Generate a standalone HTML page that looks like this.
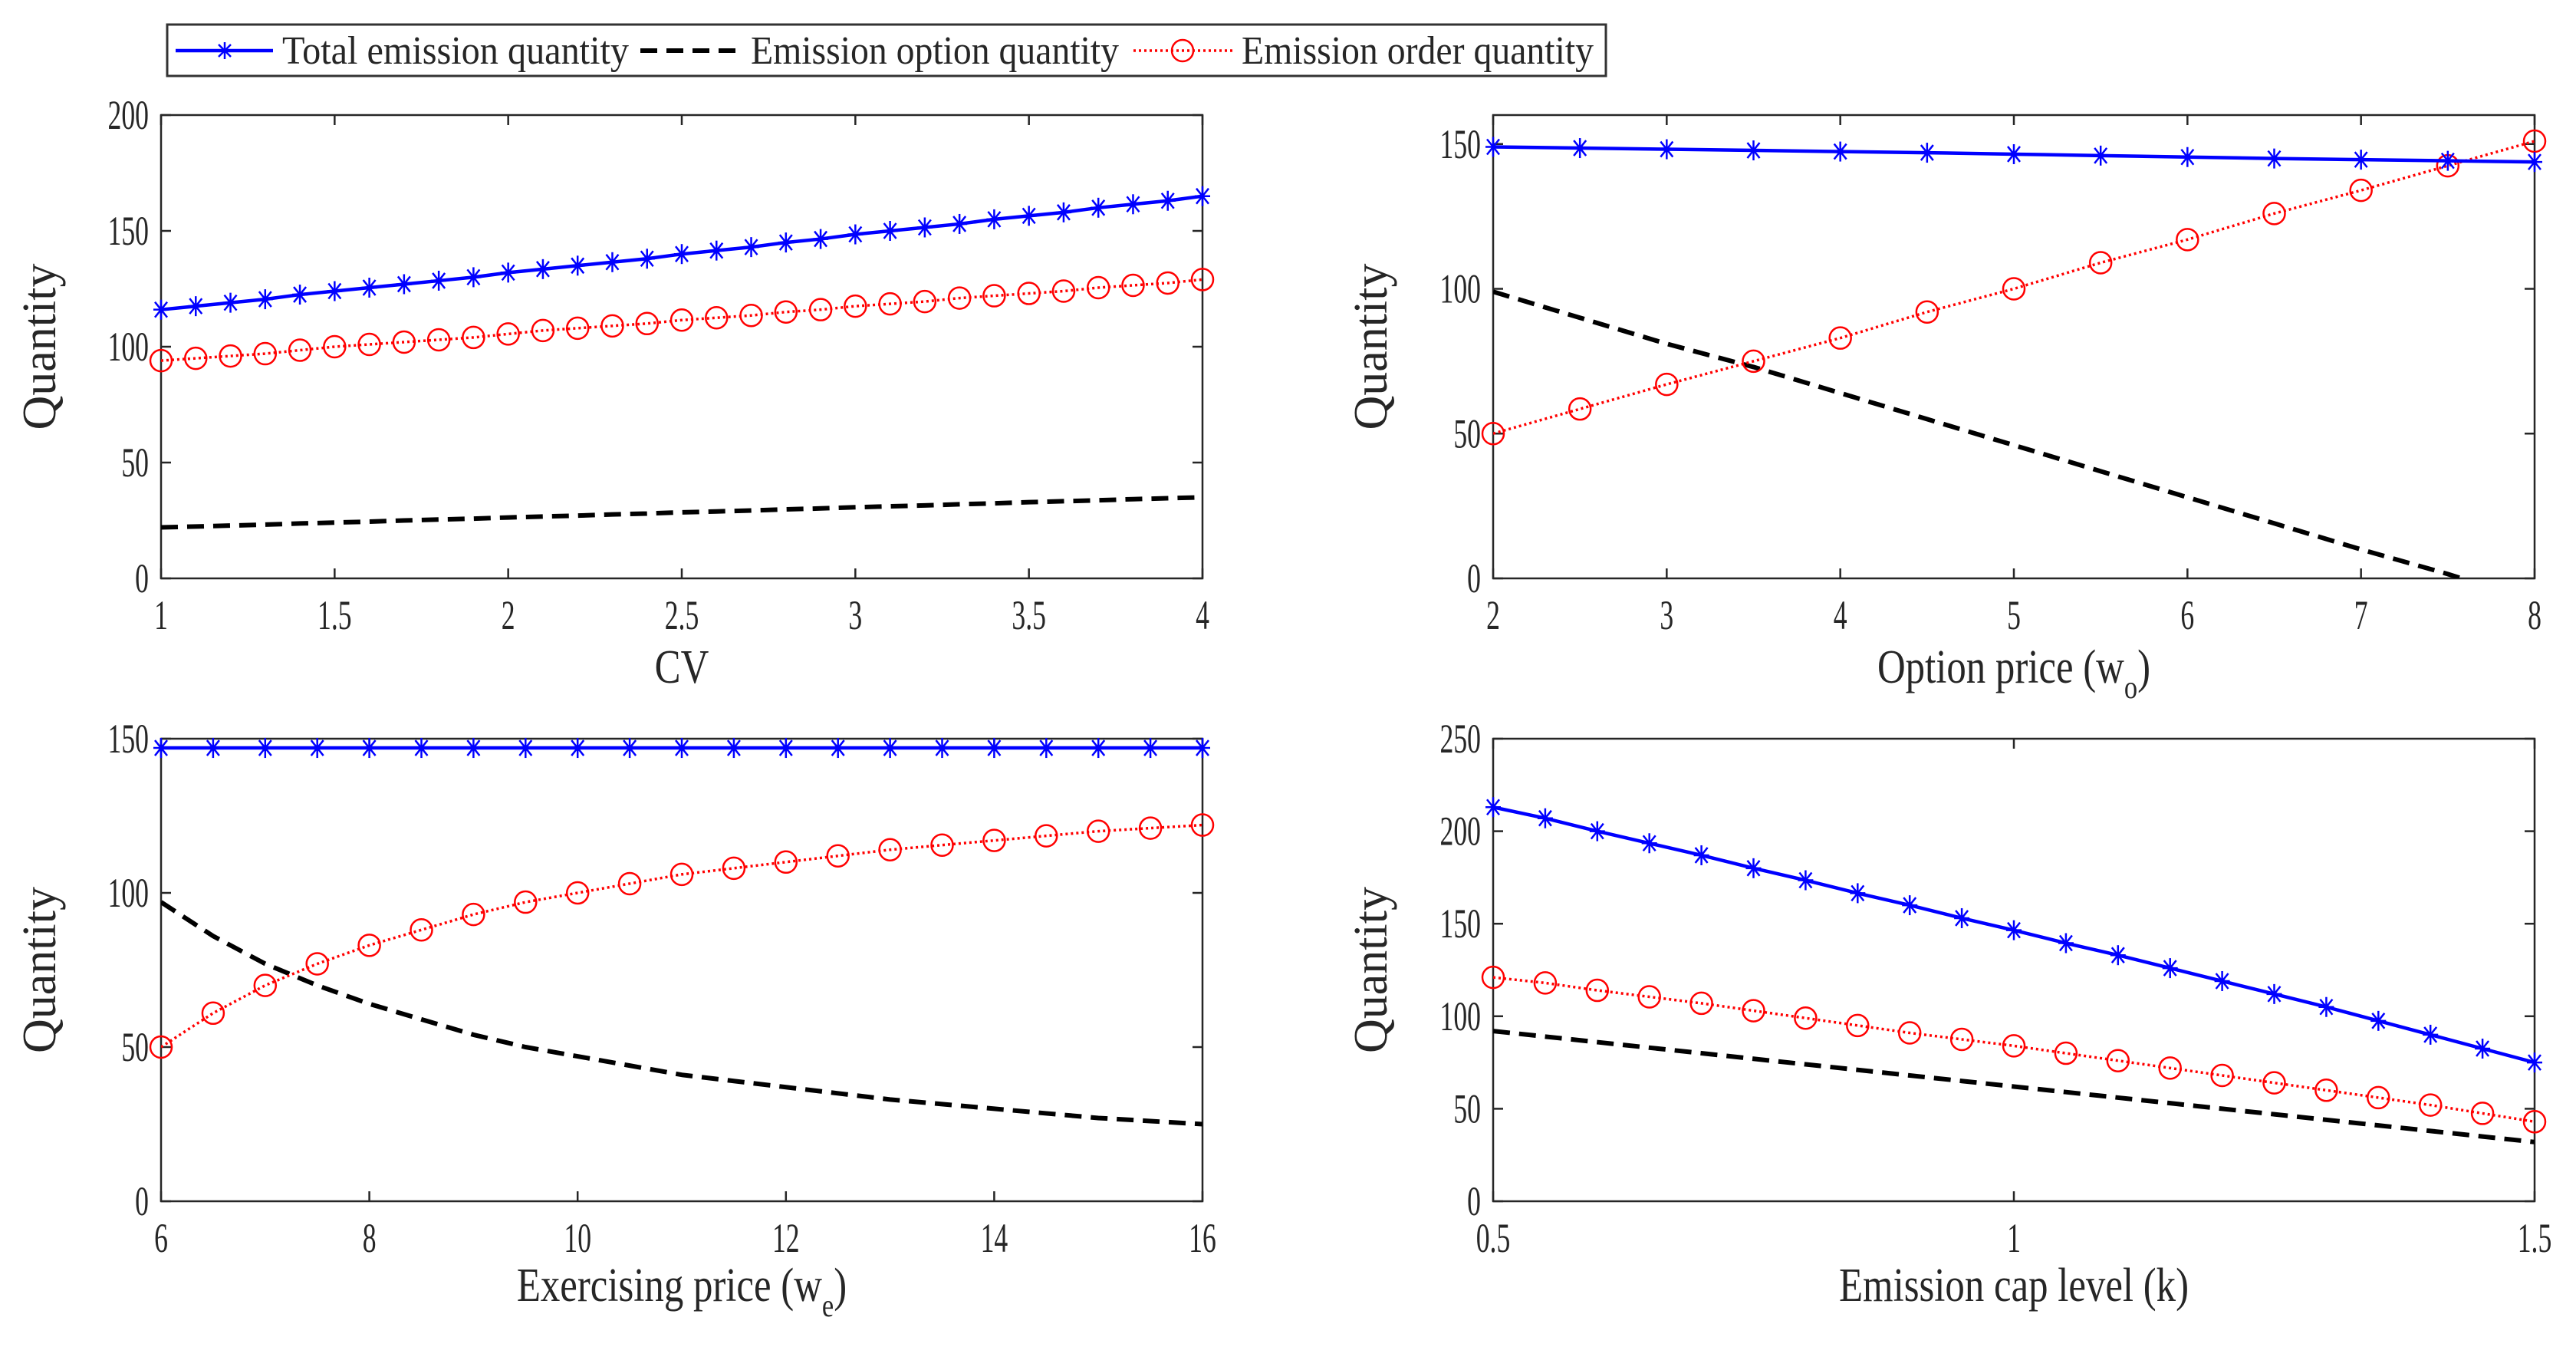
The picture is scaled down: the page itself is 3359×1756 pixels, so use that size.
<!DOCTYPE html>
<html><head><meta charset="utf-8">
<style>
html,body{margin:0;padding:0;background:#fff;}
svg{display:block;}
text{font-family:"Liberation Serif",serif;fill:#262626;}
</style></head>
<body>
<svg id="fig" width="3359" height="1756" viewBox="0 0 3359 1756" xmlns="http://www.w3.org/2000/svg">
<defs>
<clipPath id="c0"><rect x="210" y="150" width="1358" height="604"/></clipPath>
<clipPath id="c1"><rect x="1947" y="150" width="1358" height="604"/></clipPath>
<clipPath id="c2"><rect x="210" y="963" width="1358" height="603"/></clipPath>
<clipPath id="c3"><rect x="1947" y="963" width="1358" height="603"/></clipPath>
</defs>
<g id="legend">
<rect x="218" y="32" width="1876" height="67" fill="#fff" stroke="#333" stroke-width="3"/>
<g>
<line x1="229" y1="66" x2="356" y2="66" stroke="#0000ff" stroke-width="4.5"/>
<g transform="translate(293,66)" stroke="#0000ff" stroke-width="2.5"><line x1="-10" y1="0" x2="10" y2="0"/><line x1="0" y1="-11" x2="0" y2="11"/><line x1="-8" y1="-8" x2="8" y2="8"/><line x1="-8" y1="8" x2="8" y2="-8"/></g>
<text class="cond" x="368" y="83" font-size="52" data-tl="452">Total emission quantity</text>
</g>
<g>
<line x1="835" y1="66" x2="968" y2="66" stroke="#000" stroke-width="6" stroke-dasharray="22,12"/>
<text class="cond" x="979" y="83" font-size="52" data-tl="480">Emission option quantity</text>
</g>
<g>
<line x1="1478" y1="66" x2="1607" y2="66" stroke="#ff0000" stroke-width="3.5" stroke-dasharray="3,4"/>
<circle cx="1542" cy="66" r="14" fill="none" stroke="#ff0000" stroke-width="2.5"/>
<text class="cond" x="1619" y="83" font-size="52" data-tl="459">Emission order quantity</text>
</g>
</g>
<g id="panels"></g>
</svg>
<script>
// Panel 1: CV
const cvX = [1,1.1,1.2,1.3,1.4,1.5,1.6,1.7,1.8,1.9,2,2.1,2.2,2.3,2.4,2.5,2.6,2.7,2.8,2.9,3,3.1,3.2,3.3,3.4,3.5,3.6,3.7,3.8,3.9,4];
const cvTotal = [116,117.5,119,120.5,122.5,124,125.5,127,128.5,130,132,133.5,135,136.5,138,140,141.5,143,145,146.5,148.5,150,151.5,153,155,156.5,158,160,161.5,163,165];
const cvOption = [22,22.4,22.8,23.2,23.7,24.1,24.5,25,25.4,25.8,26.3,26.7,27.1,27.6,28,28.5,28.9,29.3,29.8,30.2,30.7,31.1,31.5,32,32.4,32.9,33.3,33.7,34.2,34.6,35];
const cvOrder = [94,95,96,97,98.5,100,101,102,103,104,105.5,107,108,109,110,111.5,112.5,113.5,115,116,117.5,118.5,119.5,121,122,123,124,125.5,126.5,127.5,129];
const cvXTicks = [1,1.5,2,2.5,3,3.5,4];
const cvXTickLabels = ["1","1.5","2","2.5","3","3.5","4"];
const cvYTicks = [0,50,100,150,200];
// Panel 2: option price
const woX = [2,2.5,3,3.5,4,4.5,5,5.5,6,6.5,7,7.5,8];
const woTotal = [149,148.6,148.2,147.8,147.4,147,146.5,146,145.5,145,144.6,144.2,143.8];
const woOption = [99,90,81,73,64,55,46,37,28,19,10,1.5,-8];
const woOrder = [50,58.5,67,75,83,92,100,109,117,126,134,142.5,151];
const woXTicks = [2,3,4,5,6,7,8];
const woXTickLabels = ["2","3","4","5","6","7","8"];
const woYTicks = [0,50,100,150];
// Panel 3: exercising price
const weX = [6,6.5,7,7.5,8,8.5,9,9.5,10,10.5,11,11.5,12,12.5,13,13.5,14,14.5,15,15.5,16];
const weTotal = [147,147,147,147,147,147,147,147,147,147,147,147,147,147,147,147,147,147,147,147,147];
const weOption = [97,86,77,70,64,59,54,50,47,44,41,39,37,35,33,31.5,30,28.5,27,26,25];
const weOrder = [50,61,70,77,83,88,93,97,100,103,106,108,110,112,114,115.5,117,118.5,120,121,122];
const weXTicks = [6,8,10,12,14,16];
const weXTickLabels = ["6","8","10","12","14","16"];
const weYTicks = [0,50,100,150];
// Panel 4: emission cap
const kX = [0.5,0.55,0.6,0.65,0.7,0.75,0.8,0.85,0.9,0.95,1,1.05,1.1,1.15,1.2,1.25,1.3,1.35,1.4,1.45,1.5];
const kTotal = [213,207,200,193.5,187,180,173.5,166.5,160,153,146.5,139.5,133,126,119,112,105,97.5,90,82.5,75];
const kOption = [92,89,86,83,80,77,74,71,68,65,62,59,56,53,50,47,44,41,38,35,32];
const kOrder = [121,118,114,110.5,107,103,99,95,91,87.5,84,80,76,72,68,64,60,56,52,47.5,43];
const kXTicks = [0.5,1,1.5];
const kXTickLabels = ["0.5","1","1.5"];
const kYTicks = [0,50,100,150,200,250];

const NS = "http://www.w3.org/2000/svg";
const root = document.getElementById('panels');
function mk(tag, attrs, parent){
  const e = document.createElementNS(NS, tag);
  for (const k in attrs) e.setAttribute(k, attrs[k]);
  parent.appendChild(e);
  return e;
}
function panel(cfg){
  const g = mk('g', {}, root);
  
  
  const L=cfg.x0, R=cfg.x1, T=cfg.y0, B=cfg.y1;
  const sx = v => L + (v - cfg.xmin) / (cfg.xmax - cfg.xmin) * (R - L);
  const sy = v => B - (v - cfg.ymin) / (cfg.ymax - cfg.ymin) * (B - T);
  const frame = mk('rect', {x:L, y:T, width:R-L, height:B-T, fill:'#fff', stroke:'#262626', 'stroke-width':2.5}, g);
  
  
  cfg.xt.forEach((v,i)=>{
    const x = sx(v);
    mk('line', {x1:x, y1:B, x2:x, y2:B-13, stroke:'#262626','stroke-width':2.5}, g);
    mk('line', {x1:x, y1:T, x2:x, y2:T+13, stroke:'#262626','stroke-width':2.5}, g);
    const t = mk('text', {x:x, y:B+66, 'font-size':54, 'text-anchor':'middle', class:'cond', 'data-f':'0.66'}, g);
    t.textContent = cfg.xl[i];
    
    
  });
  cfg.yt.forEach(v=>{
    const y = sy(v);
    mk('line', {x1:L, y1:y, x2:L+13, y2:y, stroke:'#262626','stroke-width':2.5}, g);
    mk('line', {x1:R, y1:y, x2:R-13, y2:y, stroke:'#262626','stroke-width':2.5}, g);
    const t = mk('text', {x:L-16, y:y+18, 'font-size':54, 'text-anchor':'end', class:'cond', 'data-f':'0.66'}, g);
    t.textContent = String(v);
    
    
  });
  const yl = mk('text', {x:0, y:0, 'font-size':62, 'text-anchor':'middle', transform:`translate(${cfg.ylx},${(T+B)/2}) rotate(-90)`}, g);
  yl.textContent = 'Quantity';
  
  
  const xl = mk('text', {x:(L+R)/2, y:cfg.xly, 'font-size':62, 'text-anchor':'middle', class:'cond', 'data-f':'0.82'}, g);
  
  
  xl.textContent = cfg.xlabel;
  if (cfg.sub){
    const ts = mk('tspan', {'font-size':42, dy:20}, xl); ts.textContent = cfg.sub;
    const ts2 = mk('tspan', {dy:-20}, xl); ts2.textContent = ')';
  }
  const cg = mk('g', {'clip-path':`url(#${cfg.clip})`}, g);
  const pts = ys => cfg.xs.map((x,i)=>sx(x)+','+sy(ys[i])).join(' ');
  const opt = mk('polyline', {points:pts(cfg.opt), fill:'none', stroke:'#000','stroke-width':6,'stroke-dasharray':'22,12'}, cg);
  
  
  const ord = mk('polyline', {points:pts(cfg.ord), fill:'none', stroke:'#ff0000','stroke-width':3.5,'stroke-dasharray':'3,4'}, cg);
  
  
  cfg.xs.forEach((x,i)=>{
    const c = mk('circle', {cx:sx(x), cy:sy(cfg.ord[i]), r:14, fill:'none', stroke:'#ff0000','stroke-width':2.5}, g);
    
    
  });
  const tot = mk('polyline', {points:pts(cfg.tot), fill:'none', stroke:'#0000ff','stroke-width':4.5}, g);
  
  
  cfg.xs.forEach((x,i)=>{
    const s = mk('g', {transform:`translate(${sx(x)},${sy(cfg.tot[i])})`, stroke:'#0000ff','stroke-width':2.5}, g);
    
    
    mk('line',{x1:-10,y1:0,x2:10,y2:0},s); mk('line',{x1:0,y1:-13,x2:0,y2:13},s);
    mk('line',{x1:-8,y1:-10,x2:8,y2:10},s); mk('line',{x1:-8,y1:10,x2:8,y2:-10},s);
  });
}
panel({name:'panel-cv', clip:'c0', x0:210,x1:1568,y0:150,y1:754, xmin:1,xmax:4,ymin:0,ymax:200,
  xs:cvX, tot:cvTotal, opt:cvOption, ord:cvOrder, xt:cvXTicks, xl:cvXTickLabels, yt:cvYTicks,
  ylx:72, xly:890, xlabel:'CV'});
panel({name:'panel-option-price', clip:'c1', x0:1947,x1:3305,y0:150,y1:754, xmin:2,xmax:8,ymin:0,ymax:160,
  xs:woX, tot:woTotal, opt:woOption, ord:woOrder, xt:woXTicks, xl:woXTickLabels, yt:woYTicks,
  ylx:1808, xly:890, xlabel:'Option price (w', sub:'o'});
panel({name:'panel-exercising-price', clip:'c2', x0:210,x1:1568,y0:963,y1:1566, xmin:6,xmax:16,ymin:0,ymax:150,
  xs:weX, tot:weTotal, opt:weOption, ord:weOrder, xt:weXTicks, xl:weXTickLabels, yt:weYTicks,
  ylx:72, xly:1696, xlabel:'Exercising price (w', sub:'e'});
panel({name:'panel-emission-cap', clip:'c3', x0:1947,x1:3305,y0:963,y1:1566, xmin:0.5,xmax:1.5,ymin:0,ymax:250,
  xs:kX, tot:kTotal, opt:kOption, ord:kOrder, xt:kXTicks, xl:kXTickLabels, yt:kYTicks,
  ylx:1808, xly:1696, xlabel:'Emission cap level (k)'});
document.querySelectorAll('text.cond').forEach(t=>{
  const tl = t.getAttribute('data-tl');
  const f = parseFloat(t.getAttribute('data-f') || '0.85');
  const w = tl ? parseFloat(tl) : t.getComputedTextLength()*f;
  t.setAttribute('textLength', w);
  t.setAttribute('lengthAdjust', 'spacingAndGlyphs');
});
</script>
</body></html>
